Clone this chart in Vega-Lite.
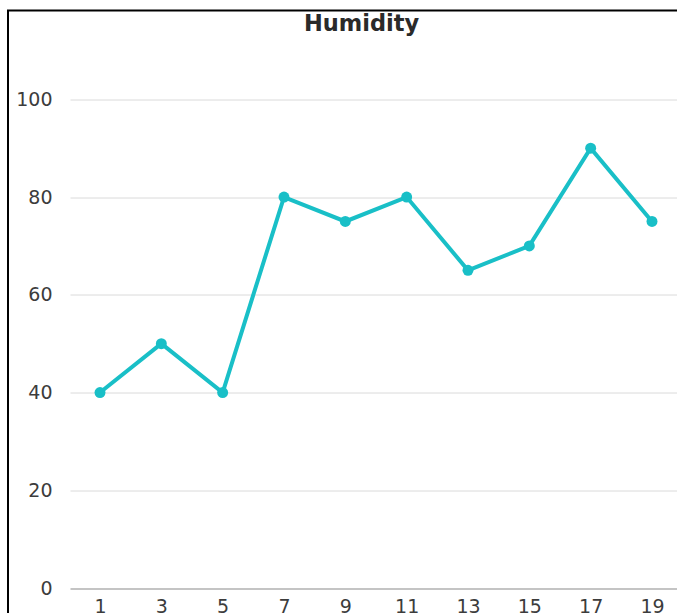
{
  "$schema": "https://vega.github.io/schema/vega-lite/v6.json",
  "autosize": {"type": "none"},
  "padding": {"left": 8, "top": 10.5, "right": -12, "bottom": -12},
  "width": 681,
  "height": 614.5,
  "background": "white",
  "title": {"text": "Humidity", "font": "DejaVu Sans", "fontSize": 22.5, "fontWeight": 600, "color": "#2a2a2a", "anchor": "middle", "dx": 13, "offset": -43, "baseline": "alphabetic"},
  "config": {
    "view": {"stroke": "#000000", "strokeWidth": 2},
    "axis": {"labelFont": "DejaVu Sans", "labelFontSize": 19, "labelColor": "#3c3c3c"}
  },
  "data": {"values": [
    {"day": 1, "humidity": 40},
    {"day": 3, "humidity": 50},
    {"day": 5, "humidity": 40},
    {"day": 7, "humidity": 80},
    {"day": 9, "humidity": 75},
    {"day": 11, "humidity": 80},
    {"day": 13, "humidity": 65},
    {"day": 15, "humidity": 70},
    {"day": 17, "humidity": 90},
    {"day": 19, "humidity": 75}
  ]},
  "encoding": {
    "x": {"field": "day", "type": "quantitative",
      "scale": {"domain": [-2, 20.207], "nice": false, "zero": false},
      "axis": {"values": [1,3,5,7,9,11,13,15,17,19], "format": "d", "orient": "bottom", "offset": -28, "ticks": false, "domain": false, "grid": false, "labelPadding": 0, "title": null, "labelBaseline": "top", "zindex": 0}},
    "y": {"field": "humidity", "type": "quantitative",
      "scale": {"domain": [-7.57, 118.17], "nice": false, "zero": false},
      "axis": {"values": [0,20,40,60,80,100], "orient": "left", "offset": -682, "tickSize": 620, "labelPadding": 18, "domain": false, "grid": false, "title": null, "zindex": 0,
        "tickColor": {"condition": {"test": "datum.value === 0", "value": "#c4c4c4"}, "value": "#dadada"},
        "tickWidth": {"condition": {"test": "datum.value === 0", "value": 2}, "value": 1}}}
  },
  "layer": [
    {"mark": {"type": "line", "color": "#19BFC7", "strokeWidth": 4}},
    {"mark": {"type": "point", "filled": true, "size": 120, "opacity": 1, "color": "#19BFC7"}}
  ]
}
